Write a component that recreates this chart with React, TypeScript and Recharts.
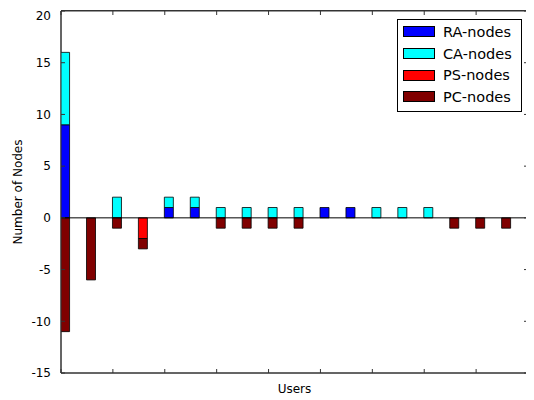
import React from "react";
import {
  BarChart,
  Bar,
  XAxis,
  YAxis,
  ReferenceLine,
  ReferenceArea,
  Legend,
} from "recharts";

const users = [0, 1, 2, 3, 4, 5, 6, 7, 8, 9, 10, 11, 12, 13, 14, 15, 16, 17];
const raNodes = [9, 0, 0, 0, 1, 1, 0, 0, 0, 0, 1, 1, 0, 0, 0, 0, 0, 0];
const caNodes = [7, 0, 2, 0, 1, 1, 1, 1, 1, 1, 0, 0, 1, 1, 1, 0, 0, 0];
const psNodes = [0, 0, 0, -2, 0, 0, 0, 0, 0, 0, 0, 0, 0, 0, 0, 0, 0, 0];
const pcNodes = [-11, -6, -1, -1, 0, 0, -1, -1, -1, -1, 0, 0, 0, 0, 0, -1, -1, -1];
const seriesNames = ["RA-nodes", "CA-nodes", "PS-nodes", "PC-nodes"];
const yTicks = [-15, -10, -5, 0, 5, 10, 15, 20];
const xTicks = [0, 2, 4, 6, 8, 10, 12, 14, 16, 18];

const nz = (v: number) => (v === 0 ? null : v);

const data = users.map((u, i) => ({
  user: u,
  ra: nz(raNodes[i]),
  ca: nz(caNodes[i]),
  ps: nz(psNodes[i]),
  pc: nz(pcNodes[i]),
}));

const FONT = "'DejaVu Sans', sans-serif";
const FRAME = "#333";

function LegendBox({ payload }: any) {
  const items = [...(payload || [])].sort(
    (a: any, b: any) => seriesNames.indexOf(a.value) - seriesNames.indexOf(b.value)
  );
  return (
    <div
      style={{
        background: "#fff",
        border: "1px solid #000",
        width: 123,
        padding: "1px 0 3px 0",
        fontFamily: FONT,
        fontSize: 14.5,
        color: "#000",
        boxSizing: "content-box",
      }}
    >
      {items.map((p: any) => (
        <div
          key={p.value}
          style={{ display: "flex", alignItems: "center", height: 21.7 }}
        >
          <span
            style={{
              display: "inline-block",
              width: 30,
              height: 9,
              marginLeft: 5,
              marginRight: 8,
              background: p.color,
              border: "0.8px solid #000",
            }}
          />
          <span>{p.value}</span>
        </div>
      ))}
    </div>
  );
}

const noText = () => "";

export default function App() {
  return (
    <div style={{ position: "relative", width: 526, height: 392 }}>
      <BarChart
        width={526}
        height={392}
        data={data}
        stackOffset="sign"
        margin={{ top: 3, right: 6, bottom: 0, left: 0 }}
        style={{ fontFamily: FONT }}
      >
        {/* bottom axis: line + label */}
        <XAxis
          xAxisId="main"
          dataKey="user"
          type="number"
          domain={[0, 18]}
          ticks={xTicks}
          allowDataOverflow
          tickFormatter={noText}
          tickLine={false}
          height={27}
          axisLine={{ stroke: FRAME }}
          label={{
            value: "Users",
            position: "insideBottom",
            offset: 7,
            fill: "#000",
            fontSize: 12,
          }}
        />
        {/* inward ticks, bottom and top */}
        <XAxis
          xAxisId="bticks"
          dataKey="user"
          type="number"
          domain={[0, 18]}
          ticks={xTicks}
          allowDataOverflow
          mirror
          tickFormatter={noText}
          tickSize={4}
          axisLine={false}
          tickLine={{ stroke: FRAME }}
        />
        <XAxis
          xAxisId="top"
          orientation="top"
          dataKey="user"
          type="number"
          domain={[0, 18]}
          ticks={xTicks}
          allowDataOverflow
          mirror
          height={1}
          tickFormatter={noText}
          tickSize={4}
          axisLine={false}
          tickLine={{ stroke: FRAME }}
        />
        <XAxis
          xAxisId="bars"
          dataKey="user"
          type="number"
          domain={[-0.175, 17.825]}
          allowDataOverflow
          height={0}
          hide
        />
        <YAxis
          yAxisId="left"
          domain={[-15, 20]}
          ticks={yTicks}
          allowDataOverflow
          width={53}
          tickLine={false}
          tickMargin={4}
          tick={{ fill: "#000", fontSize: 12 }}
          axisLine={{ stroke: FRAME }}
          label={{
            content: ({ viewBox }: any) => (
              <text
                x={13.5}
                y={viewBox.y + viewBox.height / 2}
                transform={`rotate(-90 13.5 ${viewBox.y + viewBox.height / 2})`}
                textAnchor="middle"
                fontSize={12}
                fill="#000"
              >
                Number of Nodes
              </text>
            ),
          }}
        />
        <YAxis
          yAxisId="lticks"
          domain={[-15, 20]}
          ticks={yTicks}
          allowDataOverflow
          mirror
          tickFormatter={noText}
          tickSize={4}
          axisLine={false}
          tickLine={{ stroke: FRAME }}
        />
        <YAxis
          yAxisId="right"
          orientation="right"
          domain={[-15, 20]}
          ticks={yTicks}
          allowDataOverflow
          mirror
          tickFormatter={noText}
          tickSize={4}
          axisLine={false}
          tickLine={{ stroke: FRAME }}
        />
        <Legend
          layout="vertical"
          verticalAlign="middle"
          align="center"
          wrapperStyle={{ top: 11, left: 389, width: 125 }}
          content={LegendBox}
        />
        {/* plot frame */}
        <ReferenceArea
          x1={0}
          x2={18}
          y1={-15}
          y2={20}
          xAxisId="main"
          yAxisId="left"
          fill="none"
          fillOpacity={0}
          stroke={FRAME}
          strokeWidth={1}
          ifOverflow="visible"
        />
        <Bar dataKey="ra" name="RA-nodes" stackId="s" xAxisId="bars" yAxisId="left" fill="#0000ff" stroke="#000" strokeWidth={0.8} barSize={9} isAnimationActive={false} />
        <Bar dataKey="ca" name="CA-nodes" stackId="s" xAxisId="bars" yAxisId="left" fill="#00ffff" stroke="#000" strokeWidth={0.8} barSize={9} isAnimationActive={false} />
        <Bar dataKey="ps" name="PS-nodes" stackId="s" xAxisId="bars" yAxisId="left" fill="#ff0000" stroke="#000" strokeWidth={0.8} barSize={9} isAnimationActive={false} />
        <Bar dataKey="pc" name="PC-nodes" stackId="s" xAxisId="bars" yAxisId="left" fill="#800000" stroke="#000" strokeWidth={0.8} barSize={9} isAnimationActive={false} />
        <ReferenceLine y={0} yAxisId="left" xAxisId="main" stroke="#000" strokeWidth={1} />
      </BarChart>
      {/* top and right edges of the frame */}
      <div
        style={{
          position: "absolute",
          left: 53,
          top: 2,
          width: 467,
          height: 363,
          borderTop: `1px solid ${FRAME}`,
          borderRight: `1px solid ${FRAME}`,
          boxSizing: "border-box",
          pointerEvents: "none",
        }}
      />
    </div>
  );
}
